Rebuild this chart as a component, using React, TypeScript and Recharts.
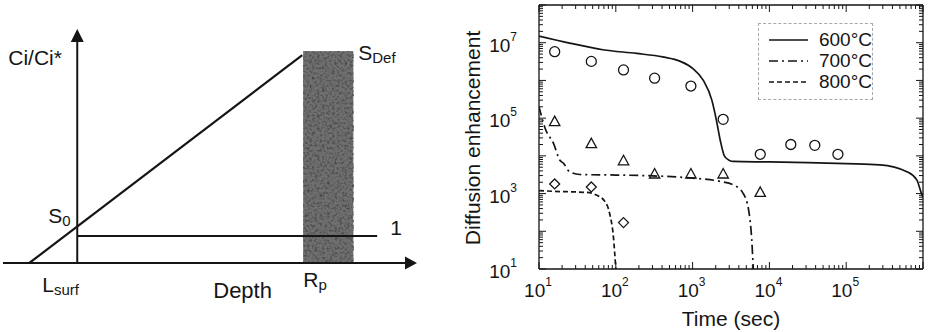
import React from "react"
import {
  ComposedChart,
  LineChart,
  Line,
  Scatter,
  XAxis,
  YAxis,
  Legend,
  Label,
  ReferenceArea,
  ReferenceLine,
  ReferenceDot,
} from "recharts"

const FONT = '"Liberation Sans", Arial, Helvetica, sans-serif'
const INK = "#151515"

// ---------- left panel: schematic profile (arbitrary units, 1 = Ci*) ----------
const depthRange = [-3.3, 15.1]
const concRange = [0, 8.67]
const profile = [
  { depth: -2.13, conc: 0 }, // L_surf
  { depth: 10, conc: 7.7 }, // R_p -> S_Def
]
const unity = [
  { depth: 0, conc: 1 },
  { depth: 13.33, conc: 1 },
]
const damageBand = { from: 10.04, to: 12.27, top: 7.85 }

// ---------- right panel: diffusion enhancement vs time ----------
const curve600 = [
  { t: 10, v: 1.5e7 },
  { t: 25, v: 9.8e6 },
  { t: 68, v: 6.5e6 },
  { t: 186, v: 5.2e6 },
  { t: 407, v: 4.2e6 },
  { t: 692, v: 3.2e6 },
  { t: 1000, v: 2.1e6 },
  { t: 1380, v: 1.0e6 },
  { t: 1780, v: 3.0e5 },
  { t: 2040, v: 8.9e4 },
  { t: 2290, v: 2.6e4 },
  { t: 2630, v: 9.5e3 },
  { t: 3390, v: 7.1e3 },
  { t: 1e4, v: 6.9e3 },
  { t: 3.16e4, v: 6.6e3 },
  { t: 1e5, v: 6.2e3 },
  { t: 2.75e5, v: 5.8e3 },
  { t: 6.17e5, v: 3.8e3 },
  { t: 8.3e5, v: 2.3e3 },
  { t: 9.55e5, v: 1.0e3 },
  { t: 1e6, v: 8.0e2 },
]
const curve700 = [
  { t: 10, v: 2.0e5 },
  { t: 12, v: 5.4e4 },
  { t: 15.5, v: 2.1e4 },
  { t: 18.6, v: 7.8e3 },
  { t: 20.9, v: 6.3e3 },
  { t: 25, v: 3.8e3 },
  { t: 34, v: 3.2e3 },
  { t: 100, v: 3.1e3 },
  { t: 302, v: 2.95e3 },
  { t: 933, v: 2.6e3 },
  { t: 2290, v: 2.1e3 },
  { t: 3390, v: 1.7e3 },
  { t: 4570, v: 1.0e3 },
  { t: 5370, v: 3.6e2 },
  { t: 5890, v: 59 },
  { t: 6170, v: 10 },
]
const curve800 = [
  { t: 10, v: 1.2e3 },
  { t: 15, v: 1.15e3 },
  { t: 42, v: 1.07e3 },
  { t: 56, v: 9.1e2 },
  { t: 72, v: 6.2e2 },
  { t: 83, v: 3.0e2 },
  { t: 93, v: 72 },
  { t: 100, v: 10 },
]
const measured600 = [
  { t: 16, v: 5.8e6 },
  { t: 48, v: 3.2e6 },
  { t: 126, v: 1.9e6 },
  { t: 320, v: 1.15e6 },
  { t: 950, v: 7.1e5 },
  { t: 2500, v: 9.3e4 },
  { t: 7600, v: 1.1e4 },
  { t: 19000, v: 2.0e4 },
  { t: 39000, v: 1.9e4 },
  { t: 78000, v: 1.1e4 },
]
const measured700 = [
  { t: 16, v: 8.1e4 },
  { t: 48, v: 2.1e4 },
  { t: 126, v: 7.4e3 },
  { t: 320, v: 3.3e3 },
  { t: 950, v: 3.3e3 },
  { t: 2500, v: 3.3e3 },
  { t: 7600, v: 1.07e3 },
]
const measured800 = [
  { t: 16, v: 1.8e3 },
  { t: 48, v: 1.5e3 },
  { t: 126, v: 1.7e2 },
]

const timeDecades = [10, 100, 1e3, 1e4, 1e5, 1e6]
const timeLabelled = [10, 100, 1e3, 1e4, 1e5]
const enhDecades = [10, 100, 1e3, 1e4, 1e5, 1e6, 1e7, 1e8]
const enhLabelled = [10, 1e3, 1e5, 1e7]

const legendRows = [
  { name: "600°C", dash: undefined },
  { name: "700°C", dash: "9 4 2 4" },
  { name: "800°C", dash: "5 3" },
]

const withMinors = (decades: number[]) =>
  decades.flatMap((d, i) =>
    i === decades.length - 1 ? [d] : [1, 2, 3, 4, 5, 6, 7, 8, 9].map((m) => m * d)
  )

const timeTicks = withMinors(timeDecades)
const enhTicks = withMinors(enhDecades)

function Power({ value, ...rest }: any) {
  const exp = Math.round(Math.log10(value))
  return (
    <text fontFamily={FONT} fill={INK} {...rest}>
      <tspan fontSize={19}>10</tspan>
      <tspan fontSize={12} dy={-11}>
        {exp}
      </tspan>
    </text>
  )
}

function makeTick(side: string, decades: number[], labelled: number[]) {
  return (props: any) => {
    const { x, y, payload } = props
    const v = payload.value
    const len = decades.includes(v) ? 7 : 4
    const showLabel = labelled.includes(v)
    if (side === "bottom") {
      return (
        <g>
          <line x1={x} x2={x} y1={y} y2={y - len} stroke={INK} strokeWidth={1} />
          {showLabel && <Power value={v} x={x - 1} y={y + 28} textAnchor="middle" />}
        </g>
      )
    }
    if (side === "top") {
      return <line x1={x} x2={x} y1={y} y2={y + len} stroke={INK} strokeWidth={1} />
    }
    if (side === "left") {
      return (
        <g>
          <line x1={x} x2={x + len} y1={y} y2={y} stroke={INK} strokeWidth={1} />
          {showLabel && <Power value={v} x={x - 22} y={y + 9} textAnchor="end" />}
        </g>
      )
    }
    return <line x1={x} x2={x - len} y1={y} y2={y} stroke={INK} strokeWidth={1} />
  }
}

const circleShape = (p: any) => (
  <circle cx={p.cx} cy={p.cy} r={5} fill="none" stroke={INK} strokeWidth={1.3} />
)
const triangleShape = (p: any) => (
  <polygon
    points={`${p.cx},${p.cy - 5.5} ${p.cx + 5.2},${p.cy + 4} ${p.cx - 5.2},${p.cy + 4}`}
    fill="none"
    stroke={INK}
    strokeWidth={1.3}
  />
)
const diamondShape = (p: any) => (
  <polygon
    points={`${p.cx},${p.cy - 5} ${p.cx + 5},${p.cy} ${p.cx},${p.cy + 5} ${p.cx - 5},${p.cy}`}
    fill="none"
    stroke={INK}
    strokeWidth={1.3}
  />
)

// grainy grey band (implanted damage region)
const bandShape = (p: any) => (
  <g>
    <defs>
      <filter id="grain" x="0" y="0" width="1" height="1" colorInterpolationFilters="sRGB">
        <feTurbulence type="fractalNoise" baseFrequency="0.4" numOctaves={3} seed={7} />
        <feColorMatrix
          type="matrix"
          values="0 0 0 0 0.25  0 0 0 0 0.25  0 0 0 0 0.25  2.2 0 0 0 -0.95"
        />
      </filter>
    </defs>
    <rect x={p.x} y={p.y} width={p.width} height={p.height} fill="#707070" />
    <rect x={p.x} y={p.y} width={p.width} height={p.height} fill="#000" filter="url(#grain)" />
  </g>
)

// text tags for the schematic, anchored to data points with pixel nudges
const tags = [
  { depth: 0, conc: 8.67, dx: -69, dy: 36, main: "Ci/Ci*", sub: "", size: 21 },
  { depth: 0, conc: 1.352, dx: -29, dy: -4, main: "S", sub: "0", size: 21 },
  { depth: 10, conc: 7.7, dx: 56, dy: 5, main: "S", sub: "Def", size: 21 },
  { depth: 13.33, conc: 1, dx: 13, dy: -1, main: "1", sub: "", size: 21 },
  { depth: -2.13, conc: 0, dx: 13, dy: 29, main: "L", sub: "surf", size: 21 },
  { depth: 6, conc: 0, dx: 1, dy: 35, main: "Depth", sub: "", size: 22 },
  { depth: 10, conc: 0, dx: 1, dy: 24, main: "R", sub: "p", size: 21 },
]

function Schematic() {
  return (
    <LineChart width={440} height={332} margin={{ top: 29, right: 23, bottom: 69, left: 3 }}>
      <XAxis hide type="number" dataKey="depth" domain={depthRange} allowDataOverflow />
      <YAxis hide type="number" dataKey="conc" domain={concRange} allowDataOverflow />
      <ReferenceArea
        x1={damageBand.from}
        x2={damageBand.to}
        y1={0}
        y2={damageBand.top}
        ifOverflow="visible"
        shape={bandShape}
      />
      <ReferenceLine
        segment={[
          { x: depthRange[0], y: 0 },
          { x: 14.8, y: 0 },
        ]}
        stroke={INK}
        strokeWidth={2}
        ifOverflow="visible"
      />
      <ReferenceLine
        segment={[
          { x: 0, y: 0 },
          { x: 0, y: 8.4 },
        ]}
        stroke={INK}
        strokeWidth={2}
        ifOverflow="visible"
      />
      <ReferenceDot
        x={depthRange[1]}
        y={0}
        r={0}
        ifOverflow="visible"
        shape={(p: any) => (
          <polygon
            points={`${p.cx},${p.cy} ${p.cx - 12},${p.cy - 6.5} ${p.cx - 12},${p.cy + 6.5}`}
            fill={INK}
          />
        )}
      />
      <ReferenceDot
        x={0}
        y={concRange[1]}
        r={0}
        ifOverflow="visible"
        shape={(p: any) => (
          <polygon
            points={`${p.cx},${p.cy} ${p.cx - 6.5},${p.cy + 13} ${p.cx + 6.5},${p.cy + 13}`}
            fill={INK}
          />
        )}
      />
      <Line
        data={unity}
        dataKey="conc"
        type="linear"
        stroke={INK}
        strokeWidth={2}
        dot={false}
        isAnimationActive={false}
      />
      <Line
        data={profile}
        dataKey="conc"
        type="linear"
        stroke={INK}
        strokeWidth={2.2}
        dot={false}
        isAnimationActive={false}
      />
      {tags.map((t) => (
        <ReferenceDot
          key={t.main + t.sub}
          x={t.depth}
          y={t.conc}
          r={0}
          ifOverflow="visible"
          shape={(p: any) => (
            <text x={p.cx + t.dx} y={p.cy + t.dy} fontFamily={FONT} fontSize={t.size} fill={INK}>
              <tspan>{t.main}</tspan>
              {t.sub && (
                <tspan fontSize={15} dy={3}>
                  {t.sub}
                </tspan>
              )}
            </text>
          )}
        />
      ))}
    </LineChart>
  )
}

function EnhancementChart() {
  return (
    <ComposedChart width={470} height={332} margin={{ top: 0, right: 0, bottom: 0, left: 0 }}>
      <XAxis
        type="number"
        dataKey="t"
        scale="log"
        domain={[10, 1e6]}
        allowDataOverflow
        ticks={timeTicks}
        interval={0}
        tickSize={0}
        tickMargin={0}
        tickLine={false}
        tick={makeTick("bottom", timeDecades, timeLabelled)}
        axisLine={{ stroke: INK, strokeWidth: 1.3 }}
        height={63}
      >
        <Label
          content={() => (
            <text x={271} y={326} textAnchor="middle" fontFamily={FONT} fontSize={21} fill={INK}>
              Time (sec)
            </text>
          )}
        />
      </XAxis>
      <XAxis
        xAxisId="top"
        orientation="top"
        type="number"
        dataKey="t"
        scale="log"
        domain={[10, 1e6]}
        allowDataOverflow
        ticks={timeTicks}
        interval={0}
        tickSize={0}
        tickMargin={0}
        tickLine={false}
        tick={makeTick("top", timeDecades, [])}
        axisLine={{ stroke: INK, strokeWidth: 1.3 }}
        height={5}
      />
      <YAxis
        type="number"
        dataKey="v"
        scale="log"
        domain={[10, 1e8]}
        allowDataOverflow
        ticks={enhTicks}
        interval={0}
        tickSize={0}
        tickMargin={0}
        tickLine={false}
        tick={makeTick("left", enhDecades, enhLabelled)}
        axisLine={{ stroke: INK, strokeWidth: 1.3 }}
        width={79}
      >
        <Label
          content={() => (
            <text
              x={20}
              y={138}
              textAnchor="middle"
              transform="rotate(-90 20 138)"
              fontFamily={FONT}
              fontSize={21}
              fill={INK}
            >
              Diffusion enhancement
            </text>
          )}
        />
      </YAxis>
      <YAxis
        yAxisId="right"
        orientation="right"
        type="number"
        dataKey="v"
        scale="log"
        domain={[10, 1e8]}
        allowDataOverflow
        ticks={enhTicks}
        interval={0}
        tickSize={0}
        tickMargin={0}
        tickLine={false}
        tick={makeTick("right", enhDecades, [])}
        axisLine={{ stroke: INK, strokeWidth: 1.3 }}
        width={7}
      />
      <Legend
        layout="vertical"
        align="center"
        verticalAlign="middle"
        wrapperStyle={{ left: 298, top: 23, width: 115, height: 77 }}
        content={() => (
          <div
            style={{
              boxSizing: "border-box",
              width: 115,
              height: 77,
              border: "1px dashed #a8a8a8",
              paddingTop: 5,
              paddingLeft: 10,
              fontFamily: FONT,
              fontSize: 19,
              color: INK,
            }}
          >
            {legendRows.map((r) => (
              <div key={r.name} style={{ display: "flex", alignItems: "center", height: 21 }}>
                <svg width={40} height={10} style={{ marginRight: 11 }}>
                  <line x1={0} x2={40} y1={5} y2={5} stroke={INK} strokeWidth={1.6} strokeDasharray={r.dash} />
                </svg>
                <span>{r.name}</span>
              </div>
            ))}
          </div>
        )}
      />
      <Line data={curve600} dataKey="v" type="monotone" stroke={INK} strokeWidth={1.7} dot={false} isAnimationActive={false} />
      <Line data={curve700} dataKey="v" type="monotone" stroke={INK} strokeWidth={1.7} strokeDasharray="9 4 2 4" dot={false} isAnimationActive={false} />
      <Line data={curve800} dataKey="v" type="monotone" stroke={INK} strokeWidth={1.7} strokeDasharray="5 3" dot={false} isAnimationActive={false} />
      <Scatter data={measured600} dataKey="v" shape={circleShape} isAnimationActive={false} />
      <Scatter data={measured700} dataKey="v" shape={triangleShape} isAnimationActive={false} />
      <Scatter data={measured800} dataKey="v" shape={diamondShape} isAnimationActive={false} />
    </ComposedChart>
  )
}

export default function App() {
  return (
    <div style={{ position: "absolute", left: 0, top: 0, width: 930, height: 332, background: "#fff" }}>
      <div style={{ position: "absolute", left: 0, top: 0 }}>
        <Schematic />
      </div>
      <div style={{ position: "absolute", left: 460, top: 0 }}>
        <EnhancementChart />
      </div>
    </div>
  )
}
